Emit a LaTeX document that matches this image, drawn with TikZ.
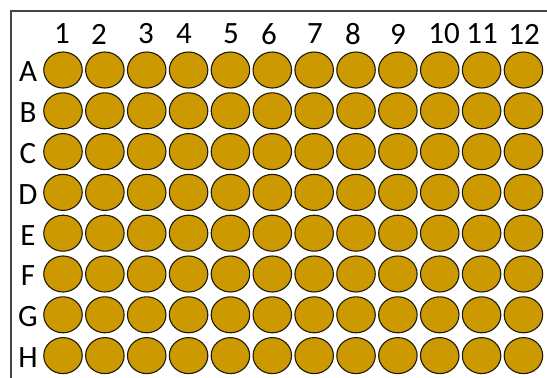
\documentclass[tikz,border=0pt]{standalone}
\usepackage{fontspec}
\setmainfont{Carlito}
\usepackage{tikz}
\usetikzlibrary{
  positioning,
  shapes.geometric
}
\definecolor{WellGold}{RGB}{204,153,0}
\definecolor{WellEdge}{RGB}{30,26,10}
\definecolor{FrameGray}{RGB}{70,70,70}
\tikzset{
  wellnode/.style={ellipse,draw=WellEdge,fill=WellGold,line width=1.1pt,inner sep=0pt,minimum width=38.5pt,minimum height=36pt},
  collabel/.style={font=\fontsize{31}{34}\selectfont,inner sep=0pt,anchor=center},
  rowlabel/.style={font=\fontsize{31}{34}\selectfont,inner sep=0pt,anchor=center},
  plateframe/.style={draw=FrameGray,line width=1.4pt}
}

\begin{document}
\begin{tikzpicture}[x=1pt,y=-1pt]
\useasboundingbox (0,0) rectangle (547,378);
% plate outline (only left and top edge visible)
\draw[plateframe] (11,380) -- (11,11) -- (549,11);

% wells
\foreach \r [count=\i from 0] in {A,B,C,D,E,F,G,H}{
  \foreach \c in {1,...,12}{
    \node[wellnode] (well-\r-\c) at ({63+(\c-1)*41.86},{70+\i*40.8}) {};
  }
  \node[rowlabel] (row-\r) at (28,{72+\i*40.8}) {\r};
}

% column numbers
\foreach \c/\x in {1/62,2/99,3/146,4/184,5/231,6/269,7/315,8/353,9/398,10/444,11/482,12/524}{
  \node[collabel] (col-\c) at (\x,34) {\c};
}
\end{tikzpicture}
\end{document}
